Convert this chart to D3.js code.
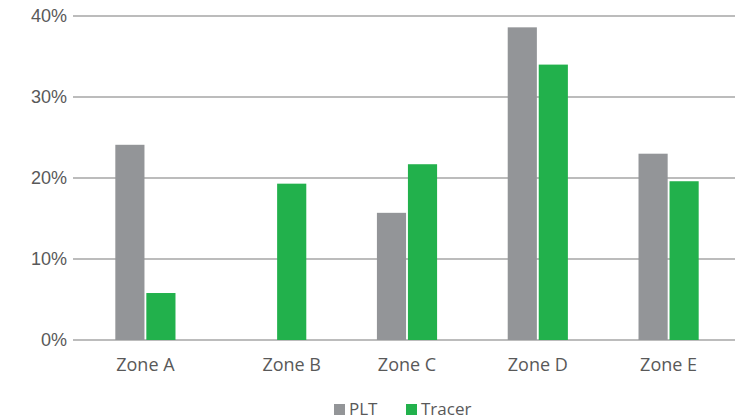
<!DOCTYPE html>
<html>
<head>
<meta charset="utf-8">
<script src="https://cdn.jsdelivr.net/npm/d3@7"></script>
<style>
  html, body { margin: 0; padding: 0; background: #fff; }
  svg { display: block; font-family: "Open Sans", "DejaVu Sans", sans-serif; }
</style>
</head>
<body>
<svg id="chart" width="735" height="420"></svg>
<script>
// Share of each zone, by measurement method (percent)
const zones = ["Zone A", "Zone B", "Zone C", "Zone D", "Zone E"];
const seriesNames = ["PLT", "Tracer"];
const pltValues = [24.1, null, 15.7, 38.6, 23.0];
const tracerValues = [5.8, 19.3, 21.7, 34.0, 19.6];
const yTicks = [0, 10, 20, 30, 40];
const seriesColors = ["#939598", "#22b14c"];

const svg = d3.select("#chart");
const width = 735, height = 420;
const margin = { top: 16, right: 0, bottom: 80, left: 73 };

const x0 = d3.scaleBand()
  .domain(zones)
  .range([80, 734])
  .paddingInner(0.54)
  .paddingOuter(0.27);

const x1 = d3.scaleBand()
  .domain(seriesNames)
  .range([0, x0.bandwidth()])
  .paddingInner(0.06);

const y = d3.scaleLinear()
  .domain([0, 40])
  .range([height - margin.bottom, margin.top]);

const textColor = "#595959";
const gridColor = "#a6a6a6";

// Horizontal gridlines
svg.append("g")
  .selectAll("line")
  .data(yTicks)
  .join("line")
  .attr("x1", margin.left)
  .attr("x2", width - margin.right)
  .attr("y1", d => y(d))
  .attr("y2", d => y(d))
  .attr("stroke", gridColor)
  .attr("stroke-width", 1.5);

// Y axis labels
const yAxis = d3.axisLeft(y)
  .tickValues(yTicks)
  .tickFormat(d => d + "%")
  .tickSize(0)
  .tickPadding(6);
const yAxisG = svg.append("g")
  .attr("transform", `translate(${margin.left},0)`)
  .call(yAxis);
yAxisG.select(".domain").remove();
yAxisG.selectAll("text")
  .attr("fill", textColor)
  .style("font-size", "18px");

// Bars (missing values are left empty)
const rows = zones.map((z, i) => ({
  zone: z,
  bars: seriesNames
    .map((s, j) => ({ series: s, value: [pltValues[i], tracerValues[i]][j], color: seriesColors[j] }))
    .filter(b => b.value != null)
}));

const groups = svg.append("g")
  .selectAll("g")
  .data(rows)
  .join("g")
  .attr("transform", d => `translate(${x0(d.zone)},0)`);

groups.selectAll("rect")
  .data(d => d.bars)
  .join("rect")
  .attr("x", d => x1(d.series))
  .attr("width", x1.bandwidth())
  .attr("y", d => y(d.value))
  .attr("height", d => y(0) - y(d.value))
  .attr("fill", d => d.color);

// Category labels, centred under the bars that are drawn in each group
groups.append("text")
  .attr("x", d => {
    const lo = d3.min(d.bars, b => x1(b.series));
    const hi = d3.max(d.bars, b => x1(b.series) + x1.bandwidth());
    return (lo + hi) / 2;
  })
  .attr("y", y(0) + 18)
  .attr("dy", "0.71em")
  .attr("text-anchor", "middle")
  .attr("fill", textColor)
  .style("font-size", "18px")
  .text(d => d.zone);

// Legend
const legendItems = [
  { name: seriesNames[0], color: seriesColors[0], x: 334 },
  { name: seriesNames[1], color: seriesColors[1], x: 406 }
];
const legend = svg.append("g").attr("transform", "translate(0,404)");
const li = legend.selectAll("g")
  .data(legendItems)
  .join("g")
  .attr("transform", d => `translate(${d.x},0)`);
li.append("rect")
  .attr("width", 11)
  .attr("height", 11)
  .attr("fill", d => d.color);
li.append("text")
  .attr("x", 15)
  .attr("y", 5.5)
  .attr("dy", "0.35em")
  .attr("fill", textColor)
  .style("font-size", "17px")
  .text(d => d.name);
</script>
</body>
</html>
